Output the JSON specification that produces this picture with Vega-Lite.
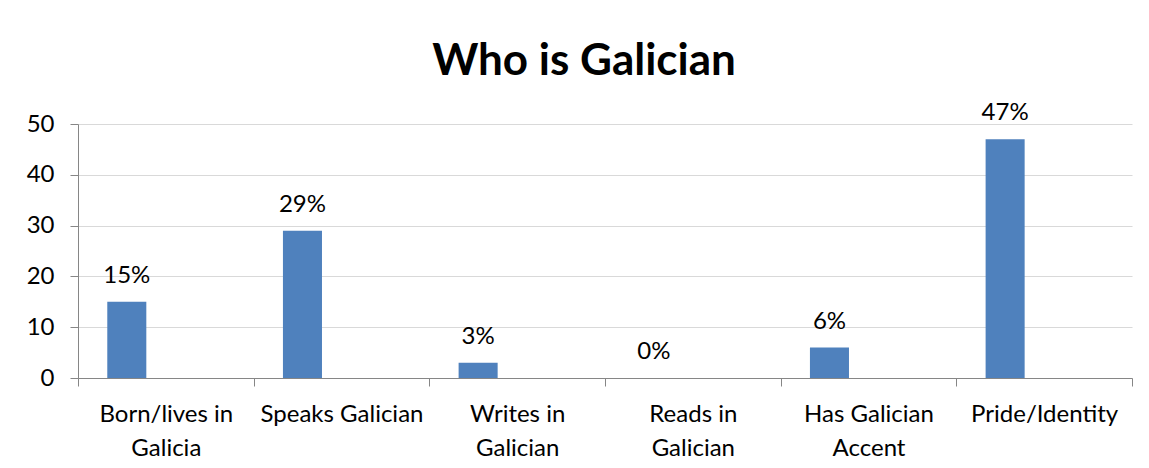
{
  "$schema": "https://vega.github.io/schema/vega-lite/v6.json",
  "autosize": {"type": "none"},
  "padding": {"left": 78, "top": 124, "right": 17, "bottom": 90},
  "width": 1054,
  "height": 254,
  "background": "white",
  "title": {
    "text": "Who is Galician",
    "font": "Lato",
    "fontSize": 44,
    "fontWeight": "bold",
    "color": "#000000",
    "anchor": "middle",
    "frame": "group",
    "dx": -21,
    "dy": 65,
    "baseline": "bottom",
    "offset": 38
  },
  "data": {
    "values": [
      {"category": "Born/lives in Galicia", "series": "A", "value": 15, "label": "15%"},
      {"category": "Speaks Galician", "series": "A", "value": 29, "label": "29%"},
      {"category": "Writes in Galician", "series": "A", "value": 3, "label": "3%"},
      {"category": "Reads in Galician", "series": "A", "value": 0, "label": "0%"},
      {"category": "Has Galician Accent", "series": "A", "value": 6, "label": "6%"},
      {"category": "Pride/Identity", "series": "A", "value": 47, "label": "47%"}
    ]
  },
  "encoding": {
    "x": {
      "field": "category",
      "type": "nominal",
      "sort": null,
      "scale": {"paddingInner": 0, "paddingOuter": 0},
      "axis": {
        "title": null,
        "labelAngle": 0,
        "labelFont": "Lato",
        "labelFontSize": 24,
        "labelColor": "#000000",
        "labelPadding": 16,
        "labelLineHeight": 34,
        "labelBaseline": "top",
        "labelLimit": 300,
        "tickBand": "extent",
        "tickSize": 8,
        "tickColor": "#868686",
        "domainColor": "#868686",
        "grid": false,
        "labelExpr": "datum.value == 'Born/lives in Galicia' ? ['Born/lives in', 'Galicia'] : datum.value == 'Writes in Galician' ? ['Writes in', 'Galician'] : datum.value == 'Reads in Galician' ? ['Reads in', 'Galician'] : datum.value == 'Has Galician Accent' ? ['Has Galician', 'Accent'] : datum.label"
      }
    },
    "xOffset": {
      "field": "series",
      "type": "nominal",
      "scale": {"domain": ["A", "B", "C"], "paddingInner": 0, "paddingOuter": 0.75}
    },
    "y": {
      "field": "value",
      "type": "quantitative",
      "scale": {"domain": [0, 50], "nice": false},
      "axis": {
        "title": null,
        "values": [0, 10, 20, 30, 40, 50],
        "labelFont": "Lato",
        "labelFontSize": 24,
        "labelColor": "#000000",
        "labelPadding": 16,
        "tickSize": 8,
        "tickColor": "#868686",
        "domainColor": "#868686",
        "gridColor": "#d9d9d9",
        "gridWidth": 1
      }
    }
  },
  "layer": [
    {
      "mark": {"type": "bar", "color": "#4f81bd"}
    },
    {
      "mark": {"type": "text", "font": "Lato", "fontSize": 24, "color": "#000000", "baseline": "alphabetic", "dy": -19},
      "encoding": {"text": {"field": "label"}}
    }
  ],
  "config": {
    "view": {"stroke": null}
  }
}
